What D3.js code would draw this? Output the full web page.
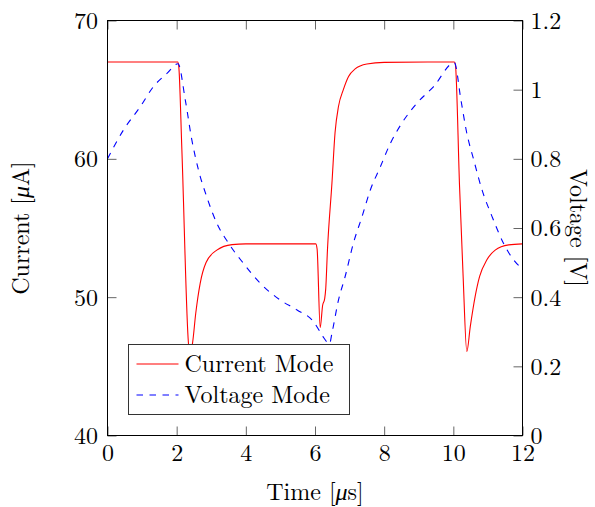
<!DOCTYPE html>
<html>
<head>
<meta charset="utf-8">
<script src="https://cdn.jsdelivr.net/npm/d3@7"></script>
<style>
  body { margin: 0; background: #fff; }
  text { font-family: "Latin Modern Roman", "Liberation Serif", serif; fill: #000; }
</style>
</head>
<body>
<div class="canvas"></div>
<script>
// current mode series (time in us, current in uA)
const timeCurrent = [0, 2.03, 2.06, 2.15, 2.34, 2.38, 2.46, 2.55, 2.68, 2.85, 3.16, 3.6, 4.0,
  6.02, 6.06, 6.15, 6.22, 6.28, 6.31, 6.36, 6.49, 6.58, 6.68, 6.82, 6.97, 7.16, 7.5, 8.0,
  10.03, 10.06, 10.18, 10.28, 10.39, 10.49, 10.63, 10.76, 10.97, 11.21, 11.6, 12];
const current = [67, 67, 66.7, 60.7, 46.7, 45.9, 46.7, 48.8, 51.0, 52.5, 53.4, 53.8, 53.85,
  53.85, 53.5, 47.8, 49.4, 49.9, 50.6, 53.4, 58.25, 61.9, 63.8, 65.0, 65.95, 66.5, 66.85, 66.97,
  67, 66.8, 58.0, 51.7, 46.06, 47.87, 50.04, 51.5, 52.7, 53.4, 53.78, 53.85];

// voltage mode series (time in us, voltage in V)
const timeVoltage = [0, 0.46, 0.95, 1.33, 1.72, 2.04, 2.25, 2.44, 2.63, 2.87, 3.16, 3.5, 3.93,
  4.42, 4.99, 5.48, 5.96, 6.23, 6.34, 6.42, 6.49, 6.68, 6.87, 7.11, 7.36, 7.6, 7.89, 8.18,
  8.51, 8.95, 9.43, 10.03, 10.22, 10.39, 10.59, 10.83, 11.12, 11.45, 11.93, 12];
const voltage = [0.8, 0.883, 0.951, 1.009, 1.047, 1.075, 0.97, 0.854, 0.768, 0.69, 0.614, 0.556, 0.498,
  0.44, 0.392, 0.363, 0.329, 0.286, 0.271, 0.265, 0.296, 0.392, 0.459, 0.556, 0.633, 0.71, 0.777, 0.845,
  0.903, 0.961, 1.009, 1.078, 0.97, 0.874, 0.797, 0.71, 0.633, 0.556, 0.488, 0.483];

const timeTicks = [0, 2, 4, 6, 8, 10, 12];
const currentTicks = [40, 50, 60, 70];
const voltageTicks = [0, 0.2, 0.4, 0.6, 0.8, 1, 1.2];
const seriesNames = ['Current Mode', 'Voltage Mode'];

const dims = { width: 595, height: 507 };
const plot = { left: 107.5, right: 522.5, top: 20.5, bottom: 435.5 };
const fontSize = 24;
const tickLen = 9;

const svg = d3.select('.canvas').append('svg')
  .attr('width', dims.width)
  .attr('height', dims.height);

const x = d3.scaleLinear().domain([0, 12]).range([plot.left, plot.right]);
const yCur = d3.scaleLinear().domain([40, 70]).range([plot.bottom, plot.top]);
const yVol = d3.scaleLinear().domain([0, 1.2]).range([plot.bottom, plot.top]);

const fmt = d => String(+d.toFixed(1));

// axes, ticks pointing inward
const styleAxis = (g) => {
  g.select('.domain').remove();
  g.selectAll('.tick line').attr('stroke', '#666').attr('stroke-width', 1);
  g.selectAll('text').attr('font-size', fontSize).attr('font-family', null);
};

svg.append('g')
  .attr('transform', `translate(0, ${plot.bottom})`)
  .call(d3.axisBottom(x).tickValues(timeTicks).tickFormat(fmt).tickSizeInner(-tickLen).tickSizeOuter(0))
  .call(styleAxis)
  .selectAll('text').attr('y', 17.5).attr('dy', '0.33em');

svg.append('g')
  .attr('transform', `translate(0, ${plot.top})`)
  .call(d3.axisTop(x).tickValues(timeTicks).tickFormat('').tickSizeInner(-tickLen).tickSizeOuter(0))
  .call(styleAxis);

svg.append('g')
  .attr('transform', `translate(${plot.left}, 0)`)
  .call(d3.axisLeft(yCur).tickValues(currentTicks).tickFormat(fmt).tickSizeInner(-tickLen).tickSizeOuter(0))
  .call(styleAxis)
  .selectAll('text').attr('x', -9.5).attr('dy', '0.33em');

svg.append('g')
  .attr('transform', `translate(${plot.right}, 0)`)
  .call(d3.axisRight(yVol).tickValues(voltageTicks).tickFormat(fmt).tickSizeInner(-tickLen).tickSizeOuter(0))
  .call(styleAxis)
  .selectAll('text').attr('x', 8).attr('dy', '0.33em');

// series lines
const curLine = d3.line()
  .x((d, i) => x(timeCurrent[i]))
  .y(d => yCur(d))
  .curve(d3.curveMonotoneX);

const volLine = d3.line()
  .x((d, i) => x(timeVoltage[i]))
  .y(d => yVol(d))
  .curve(d3.curveMonotoneX);

svg.append('path')
  .attr('d', curLine(current))
  .attr('fill', 'none')
  .attr('stroke', '#ff0000')
  .attr('stroke-width', 1.1);

svg.append('path')
  .attr('d', volLine(voltage))
  .attr('fill', 'none')
  .attr('stroke', '#0000ff')
  .attr('stroke-width', 1.1)
  .attr('stroke-dasharray', '6.5,6.5');

// frame
svg.append('rect')
  .attr('x', plot.left).attr('y', plot.top)
  .attr('width', plot.right - plot.left).attr('height', plot.bottom - plot.top)
  .attr('fill', 'none').attr('stroke', '#000').attr('stroke-width', 1);

// legend
const legend = svg.append('g').attr('transform', 'translate(128.5, 344.5)');
legend.append('rect')
  .attr('width', 221).attr('height', 70)
  .attr('fill', '#fff').attr('stroke', '#333').attr('stroke-width', 1);

const styles = [
  { colour: '#ff0000', dash: null },
  { colour: '#0000ff', dash: '6.5,6.5' }
];
seriesNames.forEach((name, i) => {
  const cy = 19.5 + i * 31;
  legend.append('line')
    .attr('x1', 8).attr('x2', 50).attr('y1', cy).attr('y2', cy)
    .attr('stroke', styles[i].colour).attr('stroke-width', 1.1)
    .attr('stroke-dasharray', styles[i].dash);
  legend.append('text')
    .attr('x', 56).attr('y', cy).attr('dy', '0.33em')
    .attr('font-size', fontSize)
    .text(name);
});

// axis titles
const xTitle = svg.append('text')
  .attr('x', (plot.left + plot.right) / 2).attr('y', 500)
  .attr('text-anchor', 'middle').attr('font-size', fontSize);
xTitle.append('tspan').text('Time [');
xTitle.append('tspan').attr('font-style', 'italic').text('μ');
xTitle.append('tspan').text('s]');

const yTitle = svg.append('text')
  .attr('transform', `translate(21, ${(plot.top + plot.bottom) / 2}) rotate(-90)`)
  .attr('text-anchor', 'middle').attr('dy', '0.33em').attr('font-size', fontSize);
yTitle.append('tspan').text('Current [');
yTitle.append('tspan').attr('font-style', 'italic').text('μ');
yTitle.append('tspan').text('A]');

svg.append('text')
  .attr('transform', `translate(578, ${(plot.top + plot.bottom) / 2}) rotate(90)`)
  .attr('text-anchor', 'middle').attr('dy', '0.33em').attr('font-size', fontSize)
  .text('Voltage [V]');
</script>
</body>
</html>
